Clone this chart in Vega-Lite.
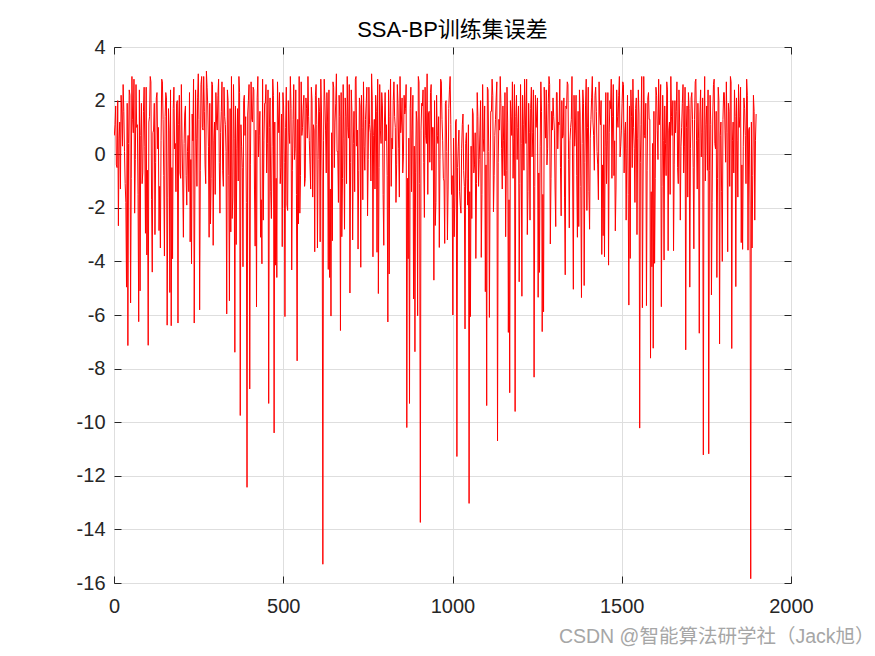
{
  "$schema": "https://vega.github.io/schema/vega-lite/v6.json",
  "autosize": "none",
  "width": 677,
  "height": 536,
  "padding": {"left": 114, "top": 47, "right": 84, "bottom": 73},
  "background": "#ffffff",
  "title": {"text": "SSA-BP训练集误差", "fontSize": 22, "font": "Liberation Sans, Noto Sans CJK SC", "fontWeight": "normal", "color": "#000000", "offset": -5, "anchor": "middle"},
  "config": {
    "view": {"stroke": "#262626", "strokeWidth": 1},
    "axis": {"labelFont": "Liberation Sans", "labelFontSize": 20, "labelColor": "#262626", "tickColor": "#262626", "domain": false, "gridColor": "#dedede", "gridWidth": 1, "tickSize": -7, "tickWidth": 1, "labelFlush": false, "labelOverlap": false}
  },
  "data": {"values": [
{"x":1,"y":0.7},{"x":5,"y":1.8},{"x":9,"y":-0.5},{"x":13,"y":-2.67},{"x":17,"y":1.2},{"x":21,"y":2.2},{"x":25,"y":0.3},{"x":29,"y":1.6},{"x":33,"y":-1.1},{"x":37,"y":-4.96},
{"x":41,"y":-7.14},{"x":45,"y":2.4},{"x":49,"y":-5.55},{"x":53,"y":2.9},{"x":57,"y":0.8},{"x":61,"y":-2.2},{"x":65,"y":2.6},{"x":69,"y":1.1},{"x":73,"y":-6.25},{"x":77,"y":-5.1},
{"x":81,"y":1.9},{"x":85,"y":-0.7},{"x":89,"y":2.5},{"x":93,"y":-2.95},{"x":97,"y":-3.76},{"x":101,"y":-7.13},{"x":105,"y":1.4},{"x":109,"y":2.7},{"x":113,"y":-4.4},{"x":117,"y":0.9},
{"x":121,"y":-3.0},{"x":125,"y":2.1},{"x":129,"y":0.2},{"x":133,"y":-2.85},{"x":137,"y":-3.5},{"x":141,"y":2.8},{"x":145,"y":1.3},{"x":149,"y":-3.8},{"x":153,"y":2.3},{"x":157,"y":-6.38},
{"x":161,"y":1.7},{"x":165,"y":-5.16},{"x":169,"y":-6.4},{"x":173,"y":-3.9},{"x":177,"y":2.5},{"x":181,"y":0.4},{"x":185,"y":1.9},{"x":189,"y":-6.3},{"x":193,"y":2.2},{"x":197,"y":-0.9},
{"x":201,"y":0.6},{"x":205,"y":-3.1},{"x":209,"y":1.5},{"x":213,"y":-0.8},{"x":217,"y":0.1},{"x":221,"y":-1.4},{"x":225,"y":-3.27},{"x":229,"y":-4.09},{"x":233,"y":0.5},{"x":237,"y":-6.3},
{"x":241,"y":2.4},{"x":245,"y":-1.2},{"x":249,"y":3.0},{"x":253,"y":-5.81},{"x":257,"y":2.6},{"x":261,"y":1.0},{"x":265,"y":2.9},{"x":269,"y":-0.4},{"x":273,"y":3.1},{"x":277,"y":1.8},
{"x":281,"y":-3.1},{"x":285,"y":-2.6},{"x":289,"y":2.7},{"x":293,"y":-3.4},{"x":297,"y":1.2},{"x":301,"y":2.3},{"x":305,"y":0.9},{"x":309,"y":2.8},{"x":313,"y":-2.2},{"x":317,"y":1.6},
{"x":321,"y":-0.6},{"x":325,"y":2.5},{"x":329,"y":1.1},{"x":333,"y":-5.96},{"x":337,"y":2.0},{"x":341,"y":-5.47},{"x":345,"y":-2.9},{"x":349,"y":-2.4},{"x":353,"y":2.6},{"x":357,"y":-7.39},
{"x":361,"y":-3.37},{"x":365,"y":1.7},{"x":369,"y":2.9},{"x":373,"y":-9.75},{"x":377,"y":0.3},{"x":381,"y":-4.2},{"x":385,"y":2.2},{"x":389,"y":1.4},{"x":393,"y":-12.43},{"x":397,"y":2.0},
{"x":401,"y":-8.76},{"x":405,"y":2.7},{"x":409,"y":1.2},{"x":413,"y":2.4},{"x":417,"y":-3.43},{"x":421,"y":-5.7},{"x":425,"y":2.9},{"x":429,"y":0.7},{"x":433,"y":-3.1},{"x":437,"y":-4.09},
{"x":441,"y":-2.46},{"x":445,"y":1.9},{"x":449,"y":2.6},{"x":453,"y":0.4},{"x":457,"y":-9.3},{"x":461,"y":2.1},{"x":465,"y":-2.4},{"x":469,"y":2.8},{"x":473,"y":-10.4},{"x":477,"y":-4.14},
{"x":481,"y":-4.6},{"x":485,"y":1.5},{"x":489,"y":2.3},{"x":493,"y":-0.5},{"x":497,"y":-3.45},{"x":501,"y":1.8},{"x":505,"y":-6.06},{"x":509,"y":2.5},{"x":513,"y":-2.1},{"x":517,"y":0.8},
{"x":521,"y":2.9},{"x":525,"y":-4.32},{"x":529,"y":1.3},{"x":533,"y":-0.2},{"x":537,"y":2.4},{"x":541,"y":-7.71},{"x":545,"y":-2.6},{"x":549,"y":-2.2},{"x":553,"y":2.7},{"x":557,"y":1.0},
{"x":561,"y":2.2},{"x":565,"y":-0.9},{"x":569,"y":1.7},{"x":573,"y":2.9},{"x":577,"y":0.5},{"x":581,"y":-1.3},{"x":585,"y":2.0},{"x":589,"y":1.1},{"x":593,"y":-3.64},{"x":597,"y":2.6},
{"x":601,"y":-3.5},{"x":605,"y":2.1},{"x":609,"y":-3.27},{"x":613,"y":1.5},{"x":617,"y":-15.3},{"x":621,"y":2.8},{"x":625,"y":0.9},{"x":629,"y":2.3},{"x":633,"y":-4.3},{"x":637,"y":-4.6},
{"x":641,"y":-6.04},{"x":645,"y":-3.23},{"x":649,"y":2.5},{"x":653,"y":1.2},{"x":657,"y":3.0},{"x":661,"y":0.1},{"x":665,"y":2.2},{"x":669,"y":-6.58},{"x":673,"y":-3.08},{"x":677,"y":2.6},
{"x":681,"y":-2.8},{"x":685,"y":1.4},{"x":689,"y":2.9},{"x":693,"y":0.6},{"x":697,"y":-5.18},{"x":701,"y":2.4},{"x":705,"y":-3.2},{"x":709,"y":1.6},{"x":713,"y":2.8},{"x":717,"y":0.3},
{"x":721,"y":-3.54},{"x":725,"y":2.1},{"x":729,"y":-4.22},{"x":733,"y":1.0},{"x":737,"y":2.7},{"x":741,"y":-0.6},{"x":745,"y":1.9},{"x":749,"y":-2.3},{"x":753,"y":2.5},{"x":757,"y":0.8},
{"x":761,"y":3.0},{"x":765,"y":-3.83},{"x":769,"y":1.3},{"x":773,"y":2.2},{"x":777,"y":-3.66},{"x":781,"y":-5.2},{"x":785,"y":2.6},{"x":789,"y":0.4},{"x":793,"y":1.8},{"x":797,"y":-3.4},
{"x":801,"y":2.3},{"x":805,"y":1.1},{"x":809,"y":-6.26},{"x":813,"y":-4.47},{"x":817,"y":2.8},{"x":821,"y":0.6},{"x":825,"y":2.0},{"x":829,"y":1.4},{"x":833,"y":-1.8},{"x":837,"y":2.6},
{"x":841,"y":0.2},{"x":845,"y":2.9},{"x":849,"y":1.2},{"x":853,"y":-0.7},{"x":857,"y":2.2},{"x":861,"y":1.7},{"x":865,"y":-10.2},{"x":869,"y":-3.9},{"x":873,"y":-9.3},{"x":877,"y":2.5},
{"x":881,"y":0.9},{"x":885,"y":-5.4},{"x":889,"y":-7.37},{"x":893,"y":1.6},{"x":897,"y":-6.03},{"x":901,"y":2.7},{"x":905,"y":-13.74},{"x":909,"y":1.9},{"x":913,"y":2.4},{"x":917,"y":-2.36},
{"x":921,"y":0.7},{"x":925,"y":3.0},{"x":929,"y":1.5},{"x":933,"y":-0.3},{"x":937,"y":2.6},{"x":941,"y":1.0},{"x":945,"y":-4.7},{"x":949,"y":-2.66},{"x":953,"y":2.2},{"x":957,"y":0.4},
{"x":961,"y":-3.48},{"x":965,"y":2.8},{"x":969,"y":1.3},{"x":973,"y":-0.9},{"x":977,"y":-3.33},{"x":981,"y":2.0},{"x":985,"y":-3.2},{"x":989,"y":1.7},{"x":993,"y":2.9},{"x":997,"y":-1.5},
{"x":1001,"y":-6.0},{"x":1005,"y":-3.08},{"x":1009,"y":1.2},{"x":1013,"y":-11.28},{"x":1017,"y":0.3},{"x":1021,"y":-1.4},{"x":1025,"y":-2.2},{"x":1029,"y":1.1},{"x":1033,"y":-0.6},{"x":1037,"y":-6.52},
{"x":1041,"y":0.8},{"x":1045,"y":-1.9},{"x":1049,"y":-13.03},{"x":1053,"y":-6.06},{"x":1057,"y":-2.4},{"x":1061,"y":1.5},{"x":1065,"y":-0.4},{"x":1069,"y":-3.89},{"x":1073,"y":2.3},{"x":1077,"y":-1.2},
{"x":1081,"y":0.9},{"x":1085,"y":-3.85},{"x":1089,"y":2.6},{"x":1093,"y":0.1},{"x":1097,"y":-5.13},{"x":1101,"y":-9.38},{"x":1105,"y":2.4},{"x":1109,"y":-6.09},{"x":1113,"y":1.6},{"x":1117,"y":2.8},
{"x":1121,"y":-2.15},{"x":1125,"y":0.7},{"x":1129,"y":2.1},{"x":1133,"y":-10.7},{"x":1137,"y":1.3},{"x":1141,"y":2.9},{"x":1145,"y":0.2},{"x":1149,"y":1.8},{"x":1153,"y":-0.8},{"x":1157,"y":-3.08},
{"x":1161,"y":2.5},{"x":1165,"y":-6.65},{"x":1169,"y":-8.9},{"x":1173,"y":1.4},{"x":1177,"y":2.7},{"x":1181,"y":0.6},{"x":1185,"y":-9.6},{"x":1189,"y":2.2},{"x":1193,"y":1.0},{"x":1197,"y":-4.76},
{"x":1201,"y":2.6},{"x":1205,"y":-5.3},{"x":1209,"y":1.1},{"x":1213,"y":2.8},{"x":1217,"y":0.4},{"x":1221,"y":-3.0},{"x":1225,"y":1.9},{"x":1229,"y":-2.46},{"x":1233,"y":2.5},{"x":1237,"y":0.8},
{"x":1241,"y":-8.32},{"x":1245,"y":2.2},{"x":1249,"y":1.5},{"x":1253,"y":-5.34},{"x":1257,"y":-4.41},{"x":1261,"y":2.7},{"x":1265,"y":-6.62},{"x":1269,"y":-5.88},{"x":1273,"y":1.3},{"x":1277,"y":2.4},
{"x":1281,"y":0.2},{"x":1285,"y":2.9},{"x":1289,"y":-3.35},{"x":1293,"y":1.6},{"x":1297,"y":2.1},{"x":1301,"y":0.9},{"x":1305,"y":-2.7},{"x":1309,"y":2.3},{"x":1313,"y":1.2},{"x":1317,"y":2.8},
{"x":1321,"y":-2.3},{"x":1325,"y":0.6},{"x":1329,"y":2.1},{"x":1333,"y":-4.5},{"x":1337,"y":1.7},{"x":1341,"y":2.6},{"x":1345,"y":-2.75},{"x":1349,"y":1.0},{"x":1353,"y":2.9},{"x":1357,"y":-5.04},
{"x":1361,"y":0.3},{"x":1365,"y":2.2},{"x":1369,"y":-3.1},{"x":1373,"y":-2.7},{"x":1377,"y":1.5},{"x":1381,"y":-5.35},{"x":1385,"y":2.4},{"x":1389,"y":-4.9},{"x":1393,"y":1.8},{"x":1397,"y":-2.1},
{"x":1401,"y":2.5},{"x":1405,"y":-2.8},{"x":1409,"y":1.3},{"x":1413,"y":2.9},{"x":1417,"y":0.7},{"x":1421,"y":2.2},{"x":1425,"y":1.6},{"x":1429,"y":-0.4},{"x":1433,"y":2.7},{"x":1437,"y":1.1},
{"x":1441,"y":-3.74},{"x":1445,"y":-3.04},{"x":1449,"y":-3.83},{"x":1453,"y":2.3},{"x":1457,"y":0.5},{"x":1461,"y":-4.14},{"x":1465,"y":2.0},{"x":1469,"y":2.8},{"x":1473,"y":1.4},{"x":1477,"y":-0.8},
{"x":1481,"y":-2.86},{"x":1485,"y":2.4},{"x":1489,"y":1.0},{"x":1493,"y":2.9},{"x":1497,"y":0.3},{"x":1501,"y":1.9},{"x":1505,"y":2.6},{"x":1509,"y":0.8},{"x":1513,"y":-2.46},{"x":1517,"y":2.2},
{"x":1521,"y":-5.63},{"x":1525,"y":-3.89},{"x":1529,"y":1.4},{"x":1533,"y":2.8},{"x":1537,"y":0.2},{"x":1541,"y":1.7},{"x":1545,"y":-3.0},{"x":1549,"y":2.4},{"x":1553,"y":-10.22},{"x":1557,"y":1.1},
{"x":1561,"y":-5.73},{"x":1565,"y":2.9},{"x":1569,"y":0.6},{"x":1573,"y":-5.65},{"x":1577,"y":2.1},{"x":1581,"y":1.3},{"x":1585,"y":-7.61},{"x":1589,"y":-4.2},{"x":1593,"y":-7.24},{"x":1597,"y":-4.07},
{"x":1601,"y":2.5},{"x":1605,"y":0.9},{"x":1609,"y":2.8},{"x":1613,"y":1.5},{"x":1617,"y":-5.69},{"x":1621,"y":2.2},{"x":1625,"y":-3.95},{"x":1629,"y":0.4},{"x":1633,"y":2.7},{"x":1637,"y":-3.6},
{"x":1641,"y":1.2},{"x":1645,"y":2.9},{"x":1649,"y":0.7},{"x":1653,"y":-3.6},{"x":1657,"y":2.0},{"x":1661,"y":1.6},{"x":1665,"y":-0.5},{"x":1669,"y":2.4},{"x":1673,"y":-2.46},{"x":1677,"y":1.0},
{"x":1681,"y":2.6},{"x":1685,"y":0.3},{"x":1689,"y":-7.3},{"x":1693,"y":1.8},{"x":1697,"y":2.3},{"x":1701,"y":-4.96},{"x":1705,"y":2.1},{"x":1709,"y":1.3},{"x":1713,"y":-3.53},{"x":1717,"y":2.7},
{"x":1721,"y":0.5},{"x":1725,"y":1.9},{"x":1729,"y":-6.68},{"x":1733,"y":2.4},{"x":1737,"y":0.8},{"x":1741,"y":-11.22},{"x":1745,"y":2.9},{"x":1749,"y":1.1},{"x":1753,"y":-0.6},{"x":1757,"y":-11.18},
{"x":1761,"y":2.2},{"x":1765,"y":-5.25},{"x":1769,"y":1.5},{"x":1773,"y":2.8},{"x":1777,"y":0.2},{"x":1781,"y":-4.6},{"x":1785,"y":2.5},{"x":1789,"y":-7.08},{"x":1793,"y":1.2},{"x":1797,"y":-4.0},
{"x":1801,"y":2.3},{"x":1805,"y":0.9},{"x":1809,"y":2.7},{"x":1813,"y":-3.64},{"x":1817,"y":1.6},{"x":1821,"y":2.9},{"x":1825,"y":-7.25},{"x":1829,"y":1.2},{"x":1833,"y":2.4},{"x":1837,"y":-4.94},
{"x":1841,"y":0.5},{"x":1845,"y":2.6},{"x":1849,"y":1.4},{"x":1853,"y":-3.3},{"x":1857,"y":-3.55},{"x":1861,"y":2.1},{"x":1865,"y":0.7},{"x":1869,"y":2.8},{"x":1873,"y":-3.58},{"x":1877,"y":1.0},
{"x":1881,"y":-15.84},{"x":1885,"y":-3.5},{"x":1889,"y":2.2},{"x":1893,"y":-2.46},{"x":1897,"y":1.5},
{"x":3,"y":1.1},{"x":7,"y":-0.4},{"x":11,"y":2.0},{"x":15,"y":0.6},{"x":19,"y":-1.3},{"x":23,"y":1.5},{"x":27,"y":2.6},{"x":31,"y":0.1},{"x":35,"y":-1.8},{"x":39,"y":1.9},
{"x":43,"y":0.4},{"x":47,"y":2.2},{"x":51,"y":-0.9},{"x":55,"y":1.3},{"x":59,"y":2.8},{"x":63,"y":-0.2},{"x":67,"y":1.0},{"x":71,"y":-1.5},{"x":75,"y":2.4},{"x":79,"y":0.7},
{"x":83,"y":-1.1},{"x":87,"y":1.6},{"x":91,"y":0.3},{"x":95,"y":2.5},{"x":99,"y":-0.6},{"x":103,"y":1.2},{"x":107,"y":2.9},{"x":111,"y":-1.7},{"x":115,"y":0.8},{"x":119,"y":1.9},
{"x":123,"y":-0.3},{"x":127,"y":2.3},{"x":131,"y":1.0},{"x":135,"y":-1.2},{"x":139,"y":0.5},{"x":143,"y":2.7},{"x":147,"y":-0.8},{"x":151,"y":1.4},{"x":155,"y":2.1},{"x":159,"y":-1.6},
{"x":163,"y":0.9},{"x":167,"y":2.4},{"x":171,"y":-0.5},{"x":175,"y":1.7},{"x":179,"y":0.2},{"x":183,"y":-1.4},{"x":187,"y":2.0},{"x":191,"y":1.1},{"x":195,"y":-0.7},{"x":199,"y":2.6},
{"x":203,"y":-1.0},{"x":207,"y":0.4},{"x":211,"y":1.8},{"x":215,"y":-1.9},{"x":219,"y":0.7},{"x":223,"y":2.3},{"x":227,"y":-0.2},{"x":231,"y":1.5},{"x":235,"y":2.8},{"x":239,"y":-1.3},
{"x":243,"y":0.6},{"x":247,"y":2.1},{"x":251,"y":1.3},{"x":255,"y":-0.6},{"x":259,"y":2.9},{"x":263,"y":0.9},{"x":267,"y":1.6},{"x":271,"y":-1.1},{"x":275,"y":2.5},{"x":279,"y":0.3},
{"x":283,"y":1.9},{"x":287,"y":-0.9},{"x":291,"y":2.6},{"x":295,"y":0.5},{"x":299,"y":-1.5},{"x":303,"y":1.2},{"x":307,"y":2.2},{"x":311,"y":-0.3},{"x":315,"y":0.8},{"x":319,"y":2.7},
{"x":323,"y":-1.2},{"x":327,"y":1.4},{"x":331,"y":0.1},{"x":335,"y":2.4},{"x":339,"y":-0.8},{"x":343,"y":1.7},{"x":347,"y":2.9},{"x":351,"y":-1.6},{"x":355,"y":0.6},{"x":359,"y":1.8},
{"x":363,"y":0.2},{"x":367,"y":-1.0},{"x":371,"y":2.3},{"x":375,"y":1.1},{"x":379,"y":-0.5},{"x":383,"y":2.0},{"x":387,"y":0.7},{"x":391,"y":-1.8},{"x":395,"y":1.5},{"x":399,"y":2.6},
{"x":403,"y":-0.4},{"x":407,"y":1.3},{"x":411,"y":2.5},{"x":415,"y":-1.3},{"x":419,"y":0.9},{"x":423,"y":2.1},{"x":427,"y":-0.1},{"x":431,"y":1.6},{"x":435,"y":-1.7},{"x":439,"y":2.8},
{"x":443,"y":0.5},{"x":447,"y":1.9},{"x":451,"y":-0.7},{"x":455,"y":2.4},{"x":459,"y":1.0},{"x":463,"y":-1.4},{"x":467,"y":0.3},{"x":471,"y":2.2},{"x":475,"y":1.2},{"x":479,"y":-0.9},
{"x":483,"y":2.7},{"x":487,"y":0.8},{"x":491,"y":-1.1},{"x":495,"y":1.5},{"x":499,"y":2.3},{"x":503,"y":-0.3},{"x":507,"y":1.0},{"x":511,"y":-1.9},{"x":515,"y":2.0},{"x":519,"y":0.4},
{"x":523,"y":1.7},{"x":527,"y":-0.6},{"x":531,"y":2.6},{"x":535,"y":0.2},{"x":539,"y":-1.5},{"x":543,"y":1.3},{"x":547,"y":2.9},{"x":551,"y":-0.8},{"x":555,"y":0.7},{"x":559,"y":1.8},
{"x":563,"y":-1.2},{"x":567,"y":2.1},{"x":571,"y":0.6},{"x":575,"y":1.4},{"x":579,"y":-0.4},{"x":583,"y":2.5},{"x":587,"y":-1.6},{"x":591,"y":0.9},{"x":595,"y":2.2},{"x":599,"y":1.1},
{"x":603,"y":-0.2},{"x":607,"y":1.6},{"x":611,"y":2.8},{"x":615,"y":-1.0},{"x":619,"y":0.5},{"x":623,"y":2.0},{"x":627,"y":-0.7},{"x":631,"y":1.2},{"x":635,"y":2.4},{"x":639,"y":-1.3},
{"x":643,"y":0.8},{"x":647,"y":2.7},{"x":651,"y":-0.5},{"x":655,"y":1.9},{"x":659,"y":0.1},{"x":663,"y":-1.8},{"x":667,"y":1.4},{"x":671,"y":2.3},{"x":675,"y":-0.9},{"x":679,"y":0.6},
{"x":683,"y":2.1},{"x":687,"y":-1.1},{"x":691,"y":1.0},{"x":695,"y":2.6},{"x":699,"y":-0.3},{"x":703,"y":1.5},{"x":707,"y":0.4},{"x":711,"y":-1.4},{"x":715,"y":2.9},{"x":719,"y":0.9},
{"x":723,"y":-0.6},{"x":727,"y":1.8},{"x":731,"y":2.2},{"x":735,"y":-1.7},{"x":739,"y":0.3},{"x":743,"y":1.3},{"x":747,"y":2.5},{"x":751,"y":-0.2},{"x":755,"y":1.1},{"x":759,"y":-1.0},
{"x":763,"y":2.0},{"x":767,"y":0.7},{"x":771,"y":-1.3},{"x":775,"y":1.6},{"x":779,"y":2.8},{"x":783,"y":-0.5},{"x":787,"y":0.9},{"x":791,"y":2.3},{"x":795,"y":-1.5},{"x":799,"y":1.2},
{"x":803,"y":0.5},{"x":807,"y":-0.8},{"x":811,"y":2.4},{"x":815,"y":1.4},{"x":819,"y":-1.2},{"x":823,"y":0.2},{"x":827,"y":2.7},{"x":831,"y":1.0},{"x":835,"y":-0.4},{"x":839,"y":1.9},
{"x":843,"y":-1.6},{"x":847,"y":0.8},{"x":851,"y":2.1},{"x":855,"y":-0.1},{"x":859,"y":1.5},{"x":863,"y":2.6},{"x":867,"y":-0.9},{"x":871,"y":0.6},{"x":875,"y":1.7},{"x":879,"y":-1.4},
{"x":883,"y":2.2},{"x":887,"y":0.3},{"x":891,"y":-0.7},{"x":895,"y":1.2},{"x":899,"y":2.9},{"x":903,"y":-1.1},{"x":907,"y":0.9},{"x":911,"y":1.8},{"x":915,"y":-0.3},{"x":919,"y":2.5},
{"x":923,"y":0.4},{"x":927,"y":-1.5},{"x":931,"y":1.6},{"x":935,"y":2.3},{"x":939,"y":-0.6},{"x":943,"y":1.0},{"x":947,"y":2.0},{"x":951,"y":-1.8},{"x":955,"y":0.7},{"x":959,"y":1.4},
{"x":963,"y":-0.2},{"x":967,"y":2.7},{"x":971,"y":0.5},{"x":975,"y":-1.0},{"x":979,"y":1.9},{"x":983,"y":0.1},{"x":987,"y":-1.3},{"x":991,"y":2.4},{"x":995,"y":1.1},{"x":999,"y":-0.8},
{"x":1003,"y":0.6},{"x":1007,"y":-1.6},{"x":1011,"y":1.3},{"x":1015,"y":-0.5},{"x":1019,"y":0.9},{"x":1023,"y":-1.9},{"x":1027,"y":0.2},{"x":1031,"y":1.5},{"x":1035,"y":-1.2},{"x":1039,"y":0.4},
{"x":1043,"y":-0.9},{"x":1047,"y":1.1},{"x":1051,"y":-1.4},{"x":1055,"y":0.3},{"x":1059,"y":1.7},{"x":1063,"y":-0.7},{"x":1067,"y":0.8},{"x":1071,"y":-1.1},{"x":1075,"y":1.4},{"x":1079,"y":-0.2},
{"x":1083,"y":2.0},{"x":1087,"y":-1.5},{"x":1091,"y":0.6},{"x":1095,"y":1.8},{"x":1099,"y":-0.4},{"x":1103,"y":2.5},{"x":1107,"y":0.1},{"x":1111,"y":-1.0},{"x":1115,"y":1.6},{"x":1119,"y":2.2},
{"x":1123,"y":-0.8},{"x":1127,"y":1.3},{"x":1131,"y":2.7},{"x":1135,"y":-0.3},{"x":1139,"y":0.9},{"x":1143,"y":1.9},{"x":1147,"y":-1.3},{"x":1151,"y":0.5},{"x":1155,"y":2.3},{"x":1159,"y":-0.6},
{"x":1163,"y":1.2},{"x":1167,"y":-1.7},{"x":1171,"y":2.0},{"x":1175,"y":0.7},{"x":1179,"y":-0.9},{"x":1183,"y":2.6},{"x":1187,"y":1.4},{"x":1191,"y":-0.2},{"x":1195,"y":1.8},{"x":1199,"y":-1.1},
{"x":1203,"y":0.4},{"x":1207,"y":2.2},{"x":1211,"y":-0.6},{"x":1215,"y":1.5},{"x":1219,"y":2.8},{"x":1223,"y":-1.4},{"x":1227,"y":0.8},{"x":1231,"y":1.7},{"x":1235,"y":-0.1},{"x":1239,"y":2.4},
{"x":1243,"y":-1.2},{"x":1247,"y":1.0},{"x":1251,"y":2.1},{"x":1255,"y":-0.7},{"x":1259,"y":0.3},{"x":1263,"y":1.6},{"x":1267,"y":-1.5},{"x":1271,"y":2.5},{"x":1275,"y":0.6},{"x":1279,"y":-0.4},
{"x":1283,"y":1.9},{"x":1287,"y":2.6},{"x":1291,"y":-0.9},{"x":1295,"y":0.9},{"x":1299,"y":1.4},{"x":1303,"y":-1.3},{"x":1307,"y":2.3},{"x":1311,"y":0.2},{"x":1315,"y":1.1},{"x":1319,"y":-0.5},
{"x":1323,"y":2.0},{"x":1327,"y":0.7},{"x":1331,"y":-1.6},{"x":1335,"y":1.8},{"x":1339,"y":2.7},{"x":1343,"y":-0.2},{"x":1347,"y":0.5},{"x":1351,"y":1.3},{"x":1355,"y":-1.0},{"x":1359,"y":2.2},
{"x":1363,"y":0.9},{"x":1367,"y":-0.8},{"x":1371,"y":1.6},{"x":1375,"y":2.4},{"x":1379,"y":-1.2},{"x":1383,"y":0.4},{"x":1387,"y":1.9},{"x":1391,"y":-0.3},{"x":1395,"y":2.8},{"x":1399,"y":1.0},
{"x":1403,"y":-1.4},{"x":1407,"y":0.6},{"x":1411,"y":2.1},{"x":1415,"y":1.2},{"x":1419,"y":-0.6},{"x":1423,"y":2.5},{"x":1427,"y":0.1},{"x":1431,"y":-1.7},{"x":1435,"y":1.5},{"x":1439,"y":2.0},
{"x":1443,"y":-0.4},{"x":1447,"y":1.1},{"x":1451,"y":0.3},{"x":1455,"y":-1.1},{"x":1459,"y":2.3},{"x":1463,"y":0.8},{"x":1467,"y":1.7},{"x":1471,"y":-0.9},{"x":1475,"y":2.6},{"x":1479,"y":0.5},
{"x":1483,"y":-1.3},{"x":1487,"y":1.4},{"x":1491,"y":2.2},{"x":1495,"y":-0.1},{"x":1499,"y":0.9},{"x":1503,"y":2.7},{"x":1507,"y":-0.7},{"x":1511,"y":1.2},{"x":1515,"y":0.2},{"x":1519,"y":-1.5},
{"x":1523,"y":1.8},{"x":1527,"y":2.4},{"x":1531,"y":-0.5},{"x":1535,"y":1.0},{"x":1539,"y":-1.8},{"x":1543,"y":2.1},{"x":1547,"y":0.6},{"x":1551,"y":1.5},{"x":1555,"y":-0.3},{"x":1559,"y":2.9},
{"x":1563,"y":-1.0},{"x":1567,"y":0.7},{"x":1571,"y":1.9},{"x":1575,"y":-0.6},{"x":1579,"y":2.3},{"x":1583,"y":1.3},{"x":1587,"y":-1.4},{"x":1591,"y":0.4},{"x":1595,"y":1.6},{"x":1599,"y":-0.9},
{"x":1603,"y":2.2},{"x":1607,"y":-0.2},{"x":1611,"y":1.1},{"x":1615,"y":2.6},{"x":1619,"y":-1.2},{"x":1623,"y":0.5},{"x":1627,"y":1.8},{"x":1631,"y":-0.8},{"x":1635,"y":2.4},{"x":1639,"y":0.9},
{"x":1643,"y":-1.5},{"x":1647,"y":1.4},{"x":1651,"y":2.0},{"x":1655,"y":-0.4},{"x":1659,"y":0.8},{"x":1663,"y":2.7},{"x":1667,"y":-1.1},{"x":1671,"y":1.2},{"x":1675,"y":0.3},{"x":1679,"y":1.9},
{"x":1683,"y":-0.7},{"x":1687,"y":2.5},{"x":1691,"y":1.0},{"x":1695,"y":-1.6},{"x":1699,"y":1.7},{"x":1703,"y":0.2},{"x":1707,"y":2.3},{"x":1711,"y":-0.5},{"x":1715,"y":1.3},{"x":1719,"y":2.8},
{"x":1723,"y":-1.3},{"x":1727,"y":0.6},{"x":1731,"y":1.5},{"x":1735,"y":-0.1},{"x":1739,"y":2.1},{"x":1743,"y":0.9},{"x":1747,"y":-1.0},{"x":1751,"y":1.8},{"x":1755,"y":2.4},{"x":1759,"y":-0.6},
{"x":1763,"y":1.1},{"x":1767,"y":-1.8},{"x":1771,"y":2.6},{"x":1775,"y":0.4},{"x":1779,"y":1.6},{"x":1783,"y":-0.9},{"x":1787,"y":2.0},{"x":1791,"y":0.7},{"x":1795,"y":-1.4},{"x":1799,"y":1.3},
{"x":1803,"y":2.3},{"x":1807,"y":-0.3},{"x":1811,"y":0.8},{"x":1815,"y":1.9},{"x":1819,"y":-1.2},{"x":1823,"y":2.7},{"x":1827,"y":0.5},{"x":1831,"y":-0.7},{"x":1835,"y":1.4},{"x":1839,"y":2.1},
{"x":1843,"y":-1.6},{"x":1847,"y":1.0},{"x":1851,"y":2.5},{"x":1855,"y":-0.4},{"x":1859,"y":0.3},{"x":1863,"y":1.7},{"x":1867,"y":-1.1},{"x":1871,"y":2.2},{"x":1875,"y":0.9},{"x":1879,"y":-1.9},
{"x":1883,"y":1.2},{"x":1887,"y":-0.8},{"x":1891,"y":1.6},{"x":1895,"y":0.5}
  ]},
  "layer": [
    {
      "mark": {"type": "line", "color": "#ff0000", "strokeWidth": 1, "clip": true},
      "encoding": {
        "x": {"field": "x", "type": "quantitative", "scale": {"domain": [0, 2000], "nice": false, "zero": false},
              "axis": {"orient": "bottom", "values": [0, 500, 1000, 1500, 2000], "grid": true, "labelPadding": 20, "labelExpr": "toString(datum.value)",
                       "title": "CSDN @智能算法研学社（Jack旭）", "titleFont": "Liberation Sans, Noto Sans CJK SC", "titleFontSize": 19.5, "titleFontWeight": "normal", "titleColor": "#a6a6a6",
                       "titleAnchor": null, "titleAlign": "right", "titleX": 760, "titleY": 53, "titleBaseline": "middle"}},
        "y": {"field": "y", "type": "quantitative", "scale": {"domain": [-16, 4], "nice": false, "zero": false},
              "axis": {"orient": "left", "values": [-16, -14, -12, -10, -8, -6, -4, -2, 0, 2, 4], "grid": true, "labelPadding": 16, "labelExpr": "toString(datum.value)", "title": null}}
      }
    },
    {
      "mark": {"type": "line", "opacity": 0},
      "encoding": {
        "x": {"field": "x", "type": "quantitative", "axis": {"orient": "top", "values": [0, 500, 1000, 1500, 2000], "labels": false, "grid": false, "title": null}},
        "y": {"field": "y", "type": "quantitative", "axis": {"orient": "right", "values": [-16, -14, -12, -10, -8, -6, -4, -2, 0, 2, 4], "labels": false, "grid": false, "title": null}}
      }
    }
  ]
}
